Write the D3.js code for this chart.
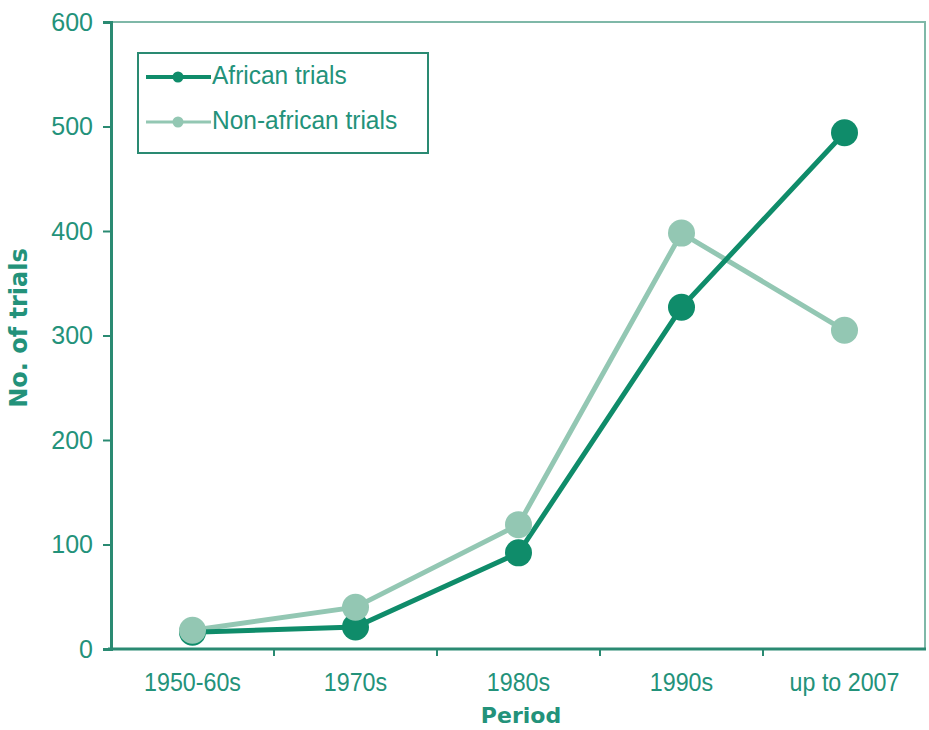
<!DOCTYPE html>
<html>
<head>
<meta charset="utf-8">
<script src="https://d3js.org/d3.v7.min.js"></script>
<style>
  body { margin: 0; background: #fff; }
  text { font-family: "Liberation Sans", Arial, sans-serif; }
</style>
</head>
<body>
<svg id="chart" width="929" height="730"></svg>
<script>
// Data
const periods = ["1950-60s", "1970s", "1980s", "1990s", "up to 2007"];
const african = [16, 21, 92, 327, 494];
const non_african = [18, 40, 119, 398, 305];
const y_ticks = [0, 100, 200, 300, 400, 500, 600];

const svg = d3.select("#chart");

// Colors
const teal_text = "#23927a",
    axis_col = "#2a8a72",
    dark_green = "#0f8c6a",
    light_green = "#93c7b3";

const plot_left = 111, plot_right = 926, plot_top = 22, plot_bottom = 649;

const x = d3.scaleBand().domain(periods).range([plot_left, plot_right]);
const y = d3.scaleLinear().domain([0, 600]).range([plot_bottom, plot_top]);

// frame (top + right)
svg.append("path")
    .attr("d", `M ${plot_left},${plot_top} L ${plot_right - 1},${plot_top} L ${plot_right - 1},${plot_bottom}`)
    .attr("fill", "none")
    .attr("stroke", "#7fb8a8")
    .attr("stroke-width", 2);

// axes
const y_axis = d3.axisLeft(y).tickValues(y_ticks).tickSize(8).tickPadding(10);
const gy = svg.append("g").attr("transform", `translate(${plot_left},0)`).call(y_axis);

const x_axis = d3.axisBottom(x).tickSize(0).tickPadding(24);
const gx = svg.append("g").attr("transform", `translate(0,${plot_bottom})`).call(x_axis);

// tick marks on category boundaries
gx.selectAll(".bnd")
    .data(periods.slice(1))
    .enter().append("line")
    .attr("x1", d => x(d)).attr("x2", d => x(d))
    .attr("y1", 0).attr("y2", 7)
    .attr("stroke", axis_col).attr("stroke-width", 2);

[gx, gy].forEach(g => {
    g.select(".domain").attr("stroke", axis_col).attr("stroke-width", 3);
    g.selectAll(".tick line").attr("stroke", axis_col).attr("stroke-width", 2);
    g.selectAll(".tick text")
        .attr("fill", teal_text)
        .style("font-size", "25px");
});
gx.select(".domain").attr("d", `M${plot_left - 3},0H${plot_right}`);
gx.selectAll(".tick text").attr("transform", "scale(0.93,1)");

// axis titles
svg.append("text")
    .attr("x", 521)
    .attr("y", 723)
    .attr("text-anchor", "middle")
    .attr("fill", teal_text)
    .style("font-family", "'DejaVu Sans', sans-serif")
    .style("font-weight", "bold")
    .style("font-size", "22px")
    .text("Period");

svg.append("text")
    .attr("transform", "translate(27,328) rotate(-90)")
    .attr("text-anchor", "middle")
    .attr("fill", teal_text)
    .style("font-family", "'DejaVu Sans', sans-serif")
    .style("font-weight", "bold")
    .style("font-size", "24px")
    .text("No. of trials");

// series: lines first, then markers with the light ones on top
const series = [
    {name: "Non-african trials", values: non_african, color: light_green},
    {name: "African trials", values: african, color: dark_green}
];

const line = d3.line()
    .x((d, i) => x(periods[i]) + x.bandwidth() / 2)
    .y(d => y(d));

series.forEach(s => {
    svg.append("path")
        .datum(s.values)
        .attr("d", line)
        .attr("fill", "none")
        .attr("stroke", s.color)
        .attr("stroke-width", 5);
});

series.slice().reverse().forEach(s => {
    svg.append("g").selectAll("circle")
        .data(s.values)
        .enter().append("circle")
        .attr("cx", (d, i) => x(periods[i]) + x.bandwidth() / 2)
        .attr("cy", d => y(d))
        .attr("r", 13.5)
        .attr("fill", s.color);
});

// legend
const legend = svg.append("g");
legend.append("rect")
    .attr("x", 138).attr("y", 53)
    .attr("width", 290).attr("height", 100)
    .attr("fill", "#fff")
    .attr("stroke", axis_col)
    .attr("stroke-width", 2);

const leg_items = [
    {name: "African trials", color: dark_green, w: 4},
    {name: "Non-african trials", color: light_green, w: 3}
];
leg_items.forEach((d, i) => {
    const ly = 77 + i * 45;
    legend.append("line")
        .attr("x1", 146).attr("x2", 211)
        .attr("y1", ly).attr("y2", ly)
        .attr("stroke", d.color).attr("stroke-width", d.w);
    legend.append("circle")
        .attr("cx", 178).attr("cy", ly).attr("r", 5.5)
        .attr("fill", d.color);
    legend.append("text")
        .attr("x", 212).attr("y", ly + 7)
        .attr("fill", teal_text)
        .style("font-size", "25px")
        .attr("transform", "translate(212,0) scale(0.98,1) translate(-212,0)")
        .text(d.name);
});
</script>
</body>
</html>
